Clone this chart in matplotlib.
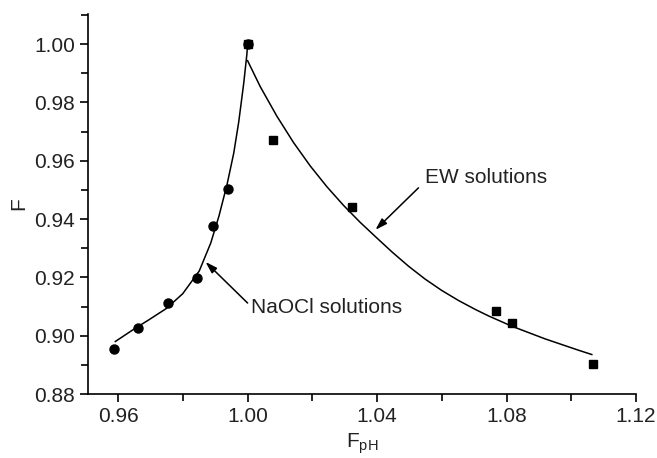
import numpy as np
import matplotlib.pyplot as plt
from matplotlib.ticker import MultipleLocator

plt.rcParams['font.family'] = ['Liberation Sans', 'DejaVu Sans']
plt.rcParams['mathtext.fontset'] = 'custom'
plt.rcParams['mathtext.rm'] = 'Liberation Sans'
plt.rcParams['mathtext.it'] = 'Liberation Sans'

# measured points
naocl_fph = [0.9588, 0.9662, 0.9754, 0.9844, 0.9893, 0.9940, 1.0000]
naocl_f = [0.8954, 0.9026, 0.9112, 0.9198, 0.9376, 0.9503, 1.0000]
ew_fph = [1.0000, 1.0077, 1.0324, 1.0769, 1.0817, 1.1067]
ew_f = [1.0000, 0.9671, 0.9441, 0.9085, 0.9044, 0.8903]

# fitted curves
naocl_fit_x = [0.95913, 0.96471, 0.96980, 0.97490, 0.97996, 0.98506, 0.98862, 0.99116,
               0.99369, 0.99573, 0.99726, 0.99878, 0.99979, 1.00000]
naocl_fit_y = [0.89801, 0.90212, 0.90566, 0.90933, 0.91440, 0.92219, 0.93179, 0.94105,
               0.95203, 0.96266, 0.97330, 0.98633, 0.99662, 1.00000]
ew_fit_x = [1.00000, 1.00392, 1.00905, 1.01421, 1.01937, 1.02450, 1.02965, 1.03481,
            1.03945, 1.04457, 1.04973, 1.05489, 1.06002, 1.06518, 1.07034, 1.07445,
            1.08164, 1.09196, 1.10224, 1.10635]
ew_fit_y = [0.99429, 0.98537, 0.97526, 0.96620, 0.95818, 0.95108, 0.94467, 0.93884,
            0.93401, 0.92876, 0.92382, 0.91937, 0.91549, 0.91206, 0.90901, 0.90678,
            0.90325, 0.89889, 0.89502, 0.89354]

txt = '#222222'
fig = plt.figure(figsize=(6.57, 4.58), dpi=100)
ax = fig.add_axes([0.134, 0.1397, 0.834, 0.8297])

ax.plot(naocl_fit_x, naocl_fit_y, color='black', lw=1.1)
ax.plot(ew_fit_x, ew_fit_y, color='black', lw=1.1)
ax.plot(ew_fph, ew_f, 's', color='black', ms=6, clip_on=False)
ax.plot(naocl_fph, naocl_f, 'o', color='black', ms=6.5, clip_on=False)

arrow = dict(arrowstyle='-|>,head_length=0.7,head_width=0.22', color='black', lw=1.1,
             shrinkA=0, shrinkB=0)
ax.annotate('', xy=(0.9870, 0.9253), xytext=(1.0000, 0.9112), arrowprops=arrow)
ax.annotate('', xy=(1.0395, 0.9363), xytext=(1.0528, 0.9507), arrowprops=arrow)
ax.text(1.0010, 0.9098, 'NaOCl solutions', fontsize=15, color=txt, ha='left', va='center')
ax.text(1.0547, 0.9541, 'EW solutions', fontsize=15, color=txt, ha='left', va='center')

ax.set_xlim(0.9507, 1.12)
ax.set_ylim(0.88, 1.0103)
ax.xaxis.set_major_locator(MultipleLocator(0.04))
ax.xaxis.set_minor_locator(MultipleLocator(0.02))
ax.yaxis.set_major_locator(MultipleLocator(0.02))
ax.yaxis.set_minor_locator(MultipleLocator(0.01))
ax.xaxis.set_major_formatter(plt.FormatStrFormatter('%.2f'))
ax.yaxis.set_major_formatter(plt.FormatStrFormatter('%.2f'))

for s in ['top', 'right']:
    ax.spines[s].set_visible(False)
for s in ['left', 'bottom']:
    ax.spines[s].set_linewidth(1.2)
ax.tick_params(which='both', direction='out', width=1.2, labelsize=15, labelcolor=txt, pad=4)
ax.tick_params(which='major', length=5.5)
ax.tick_params(which='minor', length=5)

ax.set_ylabel('F', fontsize=15, color=txt, labelpad=4)
ax.set_xlabel(r'F$_{\mathrm{pH}}$', fontsize=15, color=txt, labelpad=4)

fig.savefig('out.png', dpi=100)
